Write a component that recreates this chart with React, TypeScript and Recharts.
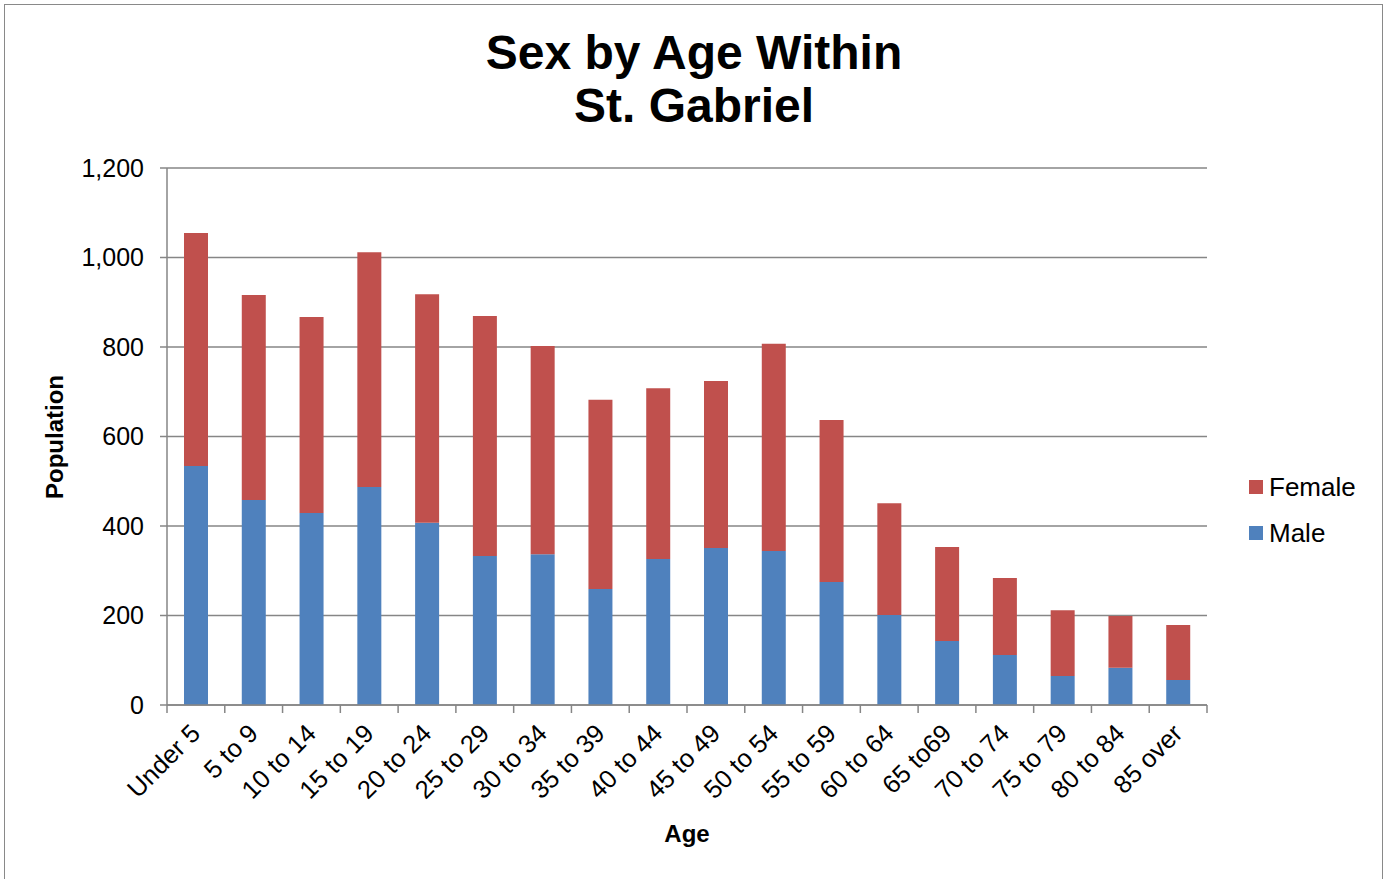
import { BarChart, Bar, XAxis, YAxis, CartesianGrid } from 'recharts';

const ageGroups = [
  'Under 5', '5 to 9', '10 to 14', '15 to 19', '20 to 24', '25 to 29', '30 to 34', '35 to 39', '40 to 44',
  '45 to 49', '50 to 54', '55 to 59', '60 to 64', '65 to69', '70 to 74', '75 to 79', '80 to 84', '85 over',
];
const male = [534, 458, 429, 487, 407, 333, 337, 259, 326, 351, 344, 275, 201, 143, 112, 65, 83, 56];
const female = [521, 458, 438, 525, 511, 536, 465, 423, 382, 373, 463, 362, 250, 210, 172, 147, 116, 123];
const yTicks = [0, 200, 400, 600, 800, 1000, 1200];

const data = ageGroups.map((age, i) => ({ age, Male: male[i], Female: female[i] }));

const PLOT_LEFT = 167;
const PLOT_RIGHT = 1207;
const PLOT_BOTTOM = 705;
const BAND = (PLOT_RIGHT - PLOT_LEFT) / ageGroups.length;
const GRID = '#868686';
const FONT = '"Liberation Sans", Arial, sans-serif';

const AgeTick = (props: any) => {
  const { x, index, payload } = props;
  const last = index === ageGroups.length - 1;
  const tx = x + 6;
  const ty = PLOT_BOTTOM + 30;
  return (
    <g>
      <line x1={x - BAND / 2} y1={PLOT_BOTTOM} x2={x - BAND / 2} y2={PLOT_BOTTOM + 8} stroke={GRID} strokeWidth={1.5} />
      {last && (
        <line x1={x + BAND / 2} y1={PLOT_BOTTOM} x2={x + BAND / 2} y2={PLOT_BOTTOM + 8} stroke={GRID} strokeWidth={1.5} />
      )}
      <text
        x={tx}
        y={ty}
        textAnchor="end"
        fontSize={25.5}
        fill="#000"
        fontFamily={FONT}
        transform={`rotate(-45 ${tx} ${ty})`}
      >
        {payload.value}
      </text>
    </g>
  );
};

const legendItems = [
  { name: 'Female', color: '#C0504D' },
  { name: 'Male', color: '#4F81BD' },
];

export default function App() {
  return (
    <div style={{ position: 'absolute', left: 0, top: 0, width: 1386, height: 879, overflow: 'hidden', background: '#fff' }}>
      <div
        style={{
          position: 'absolute', left: 4, top: 4, width: 1379, height: 920,
          border: '1.5px solid #898989', boxSizing: 'border-box',
        }}
      />
      <div
        style={{
          position: 'absolute', left: 0, width: 1388, top: 26, textAlign: 'center',
          fontFamily: FONT, fontWeight: 'bold', fontSize: 48, lineHeight: '53px', color: '#000',
        }}
      >
        Sex by Age Within
        <br />
        St. Gabriel
      </div>
      <div style={{ position: 'absolute', left: 0, top: 0 }}>
        <BarChart
          width={1386}
          height={879}
          data={data}
          margin={{ top: 168, right: 1386 - PLOT_RIGHT, bottom: 879 - PLOT_BOTTOM - 130, left: PLOT_LEFT - 90 }}
          barSize={24}
        >
          <CartesianGrid vertical={false} stroke={GRID} strokeWidth={1.5} />
          <XAxis
            dataKey="age"
            height={130}
            interval={0}
            axisLine={{ stroke: GRID, strokeWidth: 1.5 }}
            tickLine={false}
            tick={<AgeTick />}
            label={{
              content: () => (
                <text x={687} y={842} textAnchor="middle" fontFamily={FONT} fontWeight="bold" fontSize={24} fill="#000">
                  Age
                </text>
              ),
            }}
          />
          <YAxis
            width={90}
            domain={[0, 1200]}
            ticks={yTicks}
            interval={0}
            tickFormatter={(v: number) => v.toLocaleString('en-US')}
            axisLine={{ stroke: GRID, strokeWidth: 1.5 }}
            tickLine={{ stroke: GRID, strokeWidth: 1.5 }}
            tickSize={7}
            tickMargin={16}
            tick={{ fontSize: 25, fill: '#000', fontFamily: FONT }}
            label={{
              content: () => (
                <text
                  x={63}
                  y={437}
                  textAnchor="middle"
                  fontFamily={FONT}
                  fontWeight="bold"
                  fontSize={24}
                  fill="#000"
                  transform="rotate(-90 63 437)"
                >
                  Population
                </text>
              ),
            }}
          />
          <Bar dataKey="Male" stackId="a" fill="#4F81BD" isAnimationActive={false} />
          <Bar dataKey="Female" stackId="a" fill="#C0504D" isAnimationActive={false} />
        </BarChart>
      </div>
      <div style={{ position: 'absolute', left: 1249, top: 464, fontFamily: FONT, fontSize: 26, color: '#000' }}>
        {legendItems.map((s) => (
          <div key={s.name} style={{ display: 'flex', alignItems: 'center', height: 46 }}>
            <span style={{ display: 'inline-block', width: 14, height: 14, background: s.color, marginRight: 6 }} />
            {s.name}
          </div>
        ))}
      </div>
    </div>
  );
}
